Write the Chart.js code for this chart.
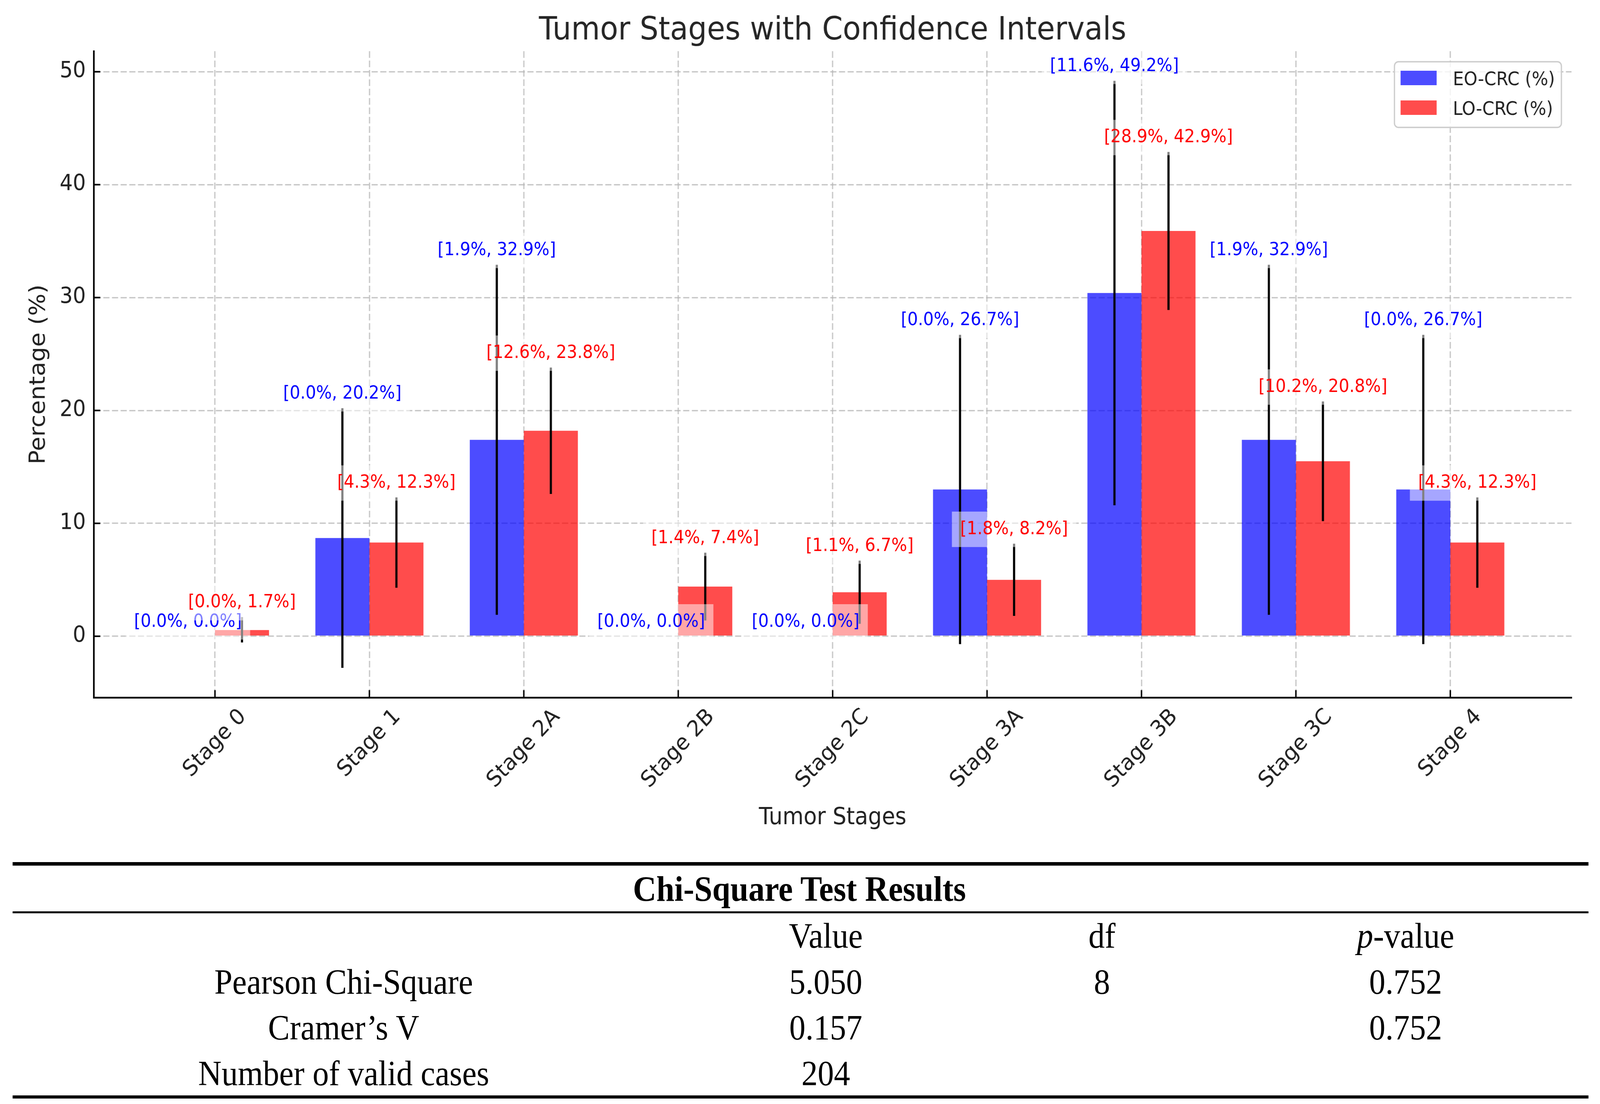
<!DOCTYPE html>
<html>
<head>
<meta charset="utf-8">
<title>Tumor Stages with Confidence Intervals</title>
<script src="https://cdn.jsdelivr.net/npm/chart.js@4.4.1/dist/chart.umd.min.js"></script>
<style>
  html, body { margin: 0; padding: 0; background: #fff; overflow: hidden; }
  #frame { position: relative; overflow: hidden; background: #fff; }
  #page { position: absolute; left: 0; top: 0; width: 4437px; height: 2825px; background: #fff; transform-origin: 0 0; }
  #chart-box { position: absolute; left: 0; top: 0; width: 4437px; height: 2190px; }
  .rule { position: absolute; background: #000; }
  .cell {
    position: absolute;
    font-family: "Liberation Serif", "DejaVu Serif", serif;
    font-size: 90px;
    line-height: 1;
    white-space: nowrap;
    color: #000;
    transform: translateX(-50%);
  }
</style>
</head>
<body>
<div id="frame">
  <div id="page">
    <div id="chart-box"><canvas id="tumor-stages-chart"></canvas></div>
    <div id="chi-table"></div>
  </div>
</div>
<script>
"use strict";

const stages = ['Stage 0', 'Stage 1', 'Stage 2A', 'Stage 2B', 'Stage 2C', 'Stage 3A', 'Stage 3B', 'Stage 3C', 'Stage 4'];

// bar heights (%)
const eoValues = [0, 8.7, 17.4, 0, 0, 13.0, 30.4, 17.4, 13.0];
const loValues = [0.55, 8.3, 18.2, 4.4, 3.9, 5.0, 35.9, 15.5, 8.3];

// confidence intervals printed above the bars
const eoCiLow = [0.0, 0.0, 1.9, 0.0, 0.0, 0.0, 11.6, 1.9, 0.0];
const eoCiHigh = [0.0, 20.2, 32.9, 0.0, 0.0, 26.7, 49.2, 32.9, 26.7];
const loCiLow = [0.0, 4.3, 12.6, 1.4, 1.1, 1.8, 28.9, 10.2, 4.3];
const loCiHigh = [1.7, 12.3, 23.8, 7.4, 6.7, 8.2, 42.9, 20.8, 12.3];

// lower end of the drawn error bars (they dip under zero for small bars)
const eoErrLow = [0, -2.8, 1.9, 0, 0, -0.7, 11.6, 1.9, -0.7];
const loErrLow = [-0.55, 4.3, 12.6, 1.4, 1.1, 1.8, 28.9, 10.2, 4.3];

const yTicks = [0, 10, 20, 30, 40, 50];

const tableTitle = 'Chi-Square Test Results';
const tableColumns = ['', 'Value', 'df', 'p-value'];
const tableRows = [
  ['Pearson Chi-Square', '5.050', '8', '0.752'],
  ['Cramer\u2019s V', '0.157', '', '0.752'],
  ['Number of valid cases', '204', '', ''],
];

const DESIGN_W = 4437;
const DESIGN_H = 2825;
const FONT = '"DejaVu Sans", "Liberation Sans", sans-serif';
const TEXT_DARK = '#222222';

// the layout is drawn at 4437x2825 and stretched onto the real viewport
const scaleX = window.innerWidth / DESIGN_W;
const scaleY = window.innerHeight / DESIGN_H;
const frame = document.getElementById('frame');
frame.style.width = `${window.innerWidth}px`;
frame.style.height = `${window.innerHeight}px`;
document.getElementById('page').style.transform = `scale(${scaleX}, ${scaleY})`;

const series = [
  { label: 'EO-CRC (%)', values: eoValues, ciLow: eoCiLow, ciHigh: eoCiHigh, errLow: eoErrLow, fill: 'rgba(0, 0, 255, 0.7)', text: '#0000ff' },
  { label: 'LO-CRC (%)', values: loValues, ciLow: loCiLow, ciHigh: loCiHigh, errLow: loErrLow, fill: 'rgba(255, 0, 0, 0.7)', text: '#ff0000' },
];

const ciText = (lo, hi) => `[${lo.toFixed(1)}%, ${hi.toFixed(1)}%]`;

const roundRectPath = (ctx, x, y, w, h, r) => {
  ctx.beginPath();
  ctx.moveTo(x + r, y);
  ctx.arcTo(x + w, y, x + w, y + h, r);
  ctx.arcTo(x + w, y + h, x, y + h, r);
  ctx.arcTo(x, y + h, x, y, r);
  ctx.arcTo(x, y, x + w, y, r);
  ctx.closePath();
};

const overlayPlugin = {
  id: 'overlay',
  afterDraw(chart) {
    const { ctx, chartArea } = chart;
    const xScale = chart.scales.x;
    const yScale = chart.scales.y;

    ctx.save();

    // inward tick marks
    ctx.strokeStyle = '#000';
    ctx.lineWidth = 4;
    yTicks.forEach((v) => {
      const y = yScale.getPixelForValue(v);
      ctx.beginPath();
      ctx.moveTo(chartArea.left, y);
      ctx.lineTo(chartArea.left + 18, y);
      ctx.stroke();
    });
    stages.forEach((_, i) => {
      const x = xScale.getPixelForValue(i);
      ctx.beginPath();
      ctx.moveTo(x, chartArea.bottom);
      ctx.lineTo(x, chartArea.bottom - 19);
      ctx.stroke();
    });

    // x tick labels, rotated 45 degrees and centred under their tick
    const tickSize = 57;
    ctx.font = `${tickSize}px ${FONT}`;
    ctx.fillStyle = TEXT_DARK;
    ctx.textAlign = 'center';
    ctx.textBaseline = 'middle';
    stages.forEach((name, i) => {
      const x = xScale.getPixelForValue(i);
      const w = ctx.measureText(name).width;
      const half = (w + tickSize) * Math.SQRT1_2 / 2;
      ctx.save();
      ctx.translate(x, chartArea.bottom + 20 + half);
      ctx.rotate(-Math.PI / 4);
      ctx.fillText(name, 0, 0);
      ctx.restore();
    });

    // error bars
    ctx.strokeStyle = '#000';
    ctx.lineWidth = 6;
    ctx.lineCap = 'butt';
    series.forEach((s, d) => {
      chart.getDatasetMeta(d).data.forEach((bar, i) => {
        const top = yScale.getPixelForValue(s.ciHigh[i]);
        const bottom = yScale.getPixelForValue(s.errLow[i]);
        if (Math.abs(bottom - top) < 0.5) {
          return;
        }
        ctx.beginPath();
        ctx.moveTo(bar.x, bottom);
        ctx.lineTo(bar.x, top);
        ctx.stroke();
      });
    });

    // confidence interval labels with a half transparent white box
    const labelSize = 46;
    const pad = 23;
    ctx.font = `${labelSize}px ${FONT}`;
    ctx.textAlign = 'center';
    ctx.textBaseline = 'alphabetic';
    stages.forEach((_, i) => {
      series.forEach((s, d) => {
        const bar = chart.getDatasetMeta(d).data[i];
        const text = ciText(s.ciLow[i], s.ciHigh[i]);
        const w = ctx.measureText(text).width;
        const bottom = yScale.getPixelForValue(s.ciHigh[i] + 0.5);
        const boxH = labelSize * 0.97;
        ctx.fillStyle = 'rgba(255, 255, 255, 0.5)';
        ctx.fillRect(bar.x - w / 2 - pad, bottom - boxH - pad, w + pad * 2, boxH + pad * 2);
        ctx.fillStyle = s.text;
        ctx.fillText(text, bar.x, bottom - labelSize * 0.22);
      });
    });

    // title
    ctx.font = `82px ${FONT}`;
    ctx.fillStyle = '#262626';
    ctx.textAlign = 'center';
    ctx.textBaseline = 'alphabetic';
    ctx.fillText('Tumor Stages with Confidence Intervals', (chartArea.left + chartArea.right) / 2, 101);

    // legend, upper right
    const legendSize = 48;
    ctx.font = `${legendSize}px ${FONT}`;
    const textW = Math.max(...series.map((s) => ctx.measureText(s.label).width));
    const frameW = 162 + textW + 18;
    const frameH = 168;
    const frameX = chartArea.right - 28 - frameW;
    const frameY = chartArea.top + 27;
    roundRectPath(ctx, frameX, frameY, frameW, frameH, 11);
    ctx.fillStyle = 'rgba(255, 255, 255, 0.8)';
    ctx.fill();
    ctx.strokeStyle = '#cccccc';
    ctx.lineWidth = 3.5;
    ctx.stroke();
    series.forEach((s, d) => {
      const rowTop = frameY + 23 + d * 76;
      ctx.fillStyle = '#fff';
      ctx.fillRect(frameX + 17, rowTop, 100, 37);
      ctx.fillStyle = s.fill;
      ctx.fillRect(frameX + 17, rowTop, 100, 37);
      ctx.fillStyle = TEXT_DARK;
      ctx.textAlign = 'left';
      ctx.fillText(s.label, frameX + 162, rowTop + 37);
    });

    ctx.restore();
  },
};

const gridStyle = {
  color: 'rgba(176, 176, 176, 0.7)',
  lineWidth: 3.5,
  drawTicks: false,
  offset: false,
};

new Chart(document.getElementById('tumor-stages-chart'), {
  type: 'bar',
  data: {
    datasets: series.map((s) => ({
      label: s.label,
      data: s.values.map((v, i) => ({ x: i, y: v })),
      backgroundColor: s.fill,
      borderWidth: 0,
      categoryPercentage: 0.7,
      barPercentage: 1.0,
    })),
  },
  options: {
    responsive: true,
    maintainAspectRatio: false,
    devicePixelRatio: window.devicePixelRatio || 1,
    animation: false,
    layout: {
      padding: { top: 131, right: 79, bottom: 0, left: 0 },
    },
    scales: {
      x: {
        type: 'linear',
        min: -0.785,
        max: 8.785,
        offset: false,
        z: 1,
        afterBuildTicks: (scale) => {
          scale.ticks = stages.map((_, i) => ({ value: i }));
        },
        afterFit: (scale) => {
          scale.height = 405;
        },
        grid: gridStyle,
        border: { display: true, color: '#000', width: 4.5, dash: [17, 7] },
        ticks: { display: false },
        title: {
          display: true,
          text: 'Tumor Stages',
          color: TEXT_DARK,
          font: { family: FONT, size: 60 },
          padding: { top: 0, bottom: 61 },
        },
      },
      y: {
        min: -5.43,
        max: 51.82,
        z: 1,
        afterBuildTicks: (scale) => {
          scale.ticks = yTicks.map((v) => ({ value: v }));
        },
        afterFit: (scale) => {
          scale.width = 260;
        },
        grid: gridStyle,
        border: { display: true, color: '#000', width: 4.5, dash: [17, 7] },
        ticks: {
          color: TEXT_DARK,
          font: { family: FONT, size: 57 },
          padding: 22,
        },
        title: {
          display: true,
          text: 'Percentage (%)',
          color: TEXT_DARK,
          font: { family: FONT, size: 60 },
          padding: { top: 72, bottom: 0 },
        },
      },
    },
    plugins: {
      legend: { display: false },
      title: { display: false },
      tooltip: { enabled: false },
    },
  },
  plugins: [overlayPlugin],
});

// Chi-square table under the chart
const table = document.getElementById('chi-table');
const colCenters = [953, 2290, 3056, 3898];
const BASELINE_OFFSET = 75.4;

const addRule = (top, height) => {
  const el = document.createElement('div');
  el.className = 'rule';
  el.style.left = '35px';
  el.style.width = '4370px';
  el.style.top = `${top}px`;
  el.style.height = `${height}px`;
  table.appendChild(el);
};

const addCell = (html, cx, baseline, bold) => {
  const el = document.createElement('div');
  el.className = 'cell';
  el.innerHTML = html;
  el.style.left = `${cx}px`;
  el.style.top = `${baseline - BASELINE_OFFSET}px`;
  if (bold) {
    el.style.fontWeight = 'bold';
  }
  table.appendChild(el);
};

addRule(2206, 9);
addCell(tableTitle, 2217, 2305, true);
addRule(2332, 5);
tableColumns.forEach((name, c) => {
  if (!name) {
    return;
  }
  const html = name === 'p-value' ? '<i>p</i>-value' : name;
  addCell(html, colCenters[c], 2425, false);
});
tableRows.forEach((row, r) => {
  row.forEach((cell, c) => {
    if (cell) {
      addCell(cell, colCenters[c], 2543 + r * 117, false);
    }
  });
});
addRule(2803, 8);
</script>
</body>
</html>
